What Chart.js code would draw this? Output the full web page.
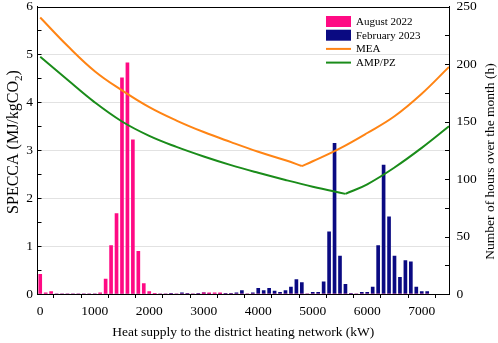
<!DOCTYPE html>
<html><head><meta charset="utf-8">
<script src="https://cdn.jsdelivr.net/npm/chart.js@4/dist/chart.umd.min.js"></script>
<style>html,body{margin:0;padding:0;background:#fff;}#wrap{width:498px;height:343px;position:relative;}</style>
</head><body><div id="wrap"><canvas id="c" width="498" height="343"></canvas></div>
<script>
// Histogram bin centres (kW)
const binCenters = [0,100,200,300,400,500,600,700,800,900,1000,1100,1200,1300,1400,1500,1600,1700,1800,1900,
  2000,2100,2200,2300,2400,2500,2600,2700,2800,2900,3000,3100,3200,3300,3400,3500,3600,3700,3800,3900,
  4000,4100,4200,4300,4400,4500,4600,4700,4800,4900,5000,5100,5200,5300,5400,5500,5600,5700,5800,5900,
  6000,6100,6200,6300,6400,6500,6600,6700,6800,6900,7000,7100];
// Hours per bin (right axis)
const august2022 = [17,1,2,0,0,0,0,0,0,0,0,1,13,42,70,188,201,134,37,9,
  2,0.5,0,0,0,0,0,0,0,0,1,1,1,1,0,0,0,0,0,0,
  0,0,0,0,0,0,0,0,0,0,0,0,0,0,0,0,0,0,0,0,
  0,0,0,0,0,0,0,0,0,0,0,0];
const february2023 = [0,0,0,0,0,0,0,0,0,0,0,0,0,0,0,0,0,0,0,0,
  0,0,0,0,0.5,0,1,0.5,0,0.5,1,0.5,0,0.5,0.5,0.5,1,3,0,1,
  5,3,5,2.5,1.5,3,6,12.6,10,0,1.5,1.5,10.6,54,131,33,8.5,0.5,0,1.5,
  1.5,6,42,112,67,33,14.4,29,28,6,2,2];
// SPECCA curves (left axis)
const meaX = [0,500,1000,1500,2000,2500,3000,3500,4000,4500,4800,5000,5500,6000,6500,7000,7500];
const meaY = [5.77,5.18,4.65,4.25,3.9,3.62,3.38,3.17,2.97,2.79,2.67,2.77,3.04,3.36,3.71,4.18,4.74];
const ampX = [0,500,1000,1500,2000,2500,3000,3500,4000,4500,5000,5600,6000,6500,7000,7500];
const ampY = [4.95,4.47,4.0,3.6,3.3,3.07,2.87,2.69,2.53,2.38,2.24,2.09,2.29,2.64,3.05,3.5];
// Axis tick values and titles
const xTickValues = [0,500,1000,1500,2000,2500,3000,3500,4000,4500,5000,5500,6000,6500,7000,7500];
const xLabelValues = [0,1000,2000,3000,4000,5000,6000,7000];
const xTitle = 'Heat supply to the district heating network (kW)';
const yTitleMain = 'SPECCA (MJ/kgCO', yTitleSub = '2', yTitleEnd = ')';
const y1Title = 'Number of hours over the month (h)';

const PINK = '#ff0a84', NAVY = '#0a0a82', ORANGE = '#ff8414', GREEN = '#1a8c1a';
const FONT = '"Liberation Serif","Times New Roman",serif';
Chart.defaults.font.family = FONT;
Chart.defaults.color = '#000';

function branch(xs, ys, left) {
  const k = ys.indexOf(Math.min(...ys));
  const pts = xs.map((x, i) => ({x: x, y: ys[i]}));
  return left ? pts.slice(0, k + 1) : pts.slice(k);
}
function lineDs(label, xs, ys, color, left) {
  return {type: 'line', label: label, legendType: left ? 'line' : null, data: branch(xs, ys, left),
    borderColor: color, backgroundColor: color, borderWidth: 2, pointRadius: 0, tension: 0.4,
    fill: false, yAxisID: 'y', order: 0};
}
function barDs(label, vals, color) {
  return {type: 'bar', label: label, legendType: 'box', data: binCenters.map((x, i) => ({x: x, y: vals[i]})),
    backgroundColor: color, borderWidth: 0, barThickness: 3, grouped: false, yAxisID: 'y1', order: 1};
}
function noPad(s) { s.paddingTop = 0; s.paddingBottom = 0; s.paddingLeft = 0; s.paddingRight = 0; }

const framePlugin = {
  id: 'frame',
  afterDatasetsDraw(chart) {
    const {ctx, chartArea: a} = chart;
    ctx.save();
    ctx.strokeStyle = '#000'; ctx.lineWidth = 1;
    ctx.beginPath();
    ctx.moveTo(a.left, Math.round(a.top) + 0.5); ctx.lineTo(a.right, Math.round(a.top) + 0.5);
    ctx.stroke();
    // inward tick marks on both vertical axes
    const yl = chart.scales.y, yr = chart.scales.y1;
    ctx.beginPath();
    yl.ticks.forEach(t => { const p = Math.round(yl.getPixelForValue(t.value)) + 0.5; ctx.moveTo(a.left, p); ctx.lineTo(a.left + 4, p); });
    yr.ticks.forEach(t => { const p = Math.round(yr.getPixelForValue(t.value)) + 0.5; ctx.moveTo(a.right, p); ctx.lineTo(a.right - 4, p); });
    ctx.stroke();
    // legend inside plot
    const items = chart.data.datasets.filter(d => d.legendType);
    const bx = a.right - 123, by = a.top + 15, gap = 13.7;
    ctx.font = '11px ' + FONT;
    ctx.textBaseline = 'middle'; ctx.textAlign = 'left';
    items.forEach((d, i) => {
      const cy = by + i * gap;
      if (d.legendType === 'box') {
        ctx.fillStyle = d.backgroundColor; ctx.fillRect(bx, cy - 5.5, 25, 11);
      } else {
        ctx.strokeStyle = d.borderColor; ctx.lineWidth = 2;
        ctx.beginPath(); ctx.moveTo(bx, cy); ctx.lineTo(bx + 25, cy); ctx.stroke();
      }
      ctx.fillStyle = '#000';
      ctx.fillText(d.label, bx + 30, cy + 0.5);
    });
    ctx.restore();
  },
  afterDraw(chart) {
    const ctx = chart.ctx;
    ctx.save();
    ctx.fillStyle = '#000'; ctx.textBaseline = 'alphabetic'; ctx.textAlign = 'left';
    // left axis title with subscript, reading bottom to top
    ctx.translate(18, 142); ctx.rotate(-Math.PI / 2);
    ctx.font = '16px ' + FONT; const w1 = ctx.measureText(yTitleMain).width, w3 = ctx.measureText(yTitleEnd).width;
    ctx.font = '11px ' + FONT; const w2 = ctx.measureText(yTitleSub).width;
    const x0 = -(w1 + w2 + w3) / 2;
    ctx.font = '16px ' + FONT; ctx.fillText(yTitleMain, x0, 0);
    ctx.font = '11px ' + FONT; ctx.fillText(yTitleSub, x0 + w1, 4);
    ctx.font = '16px ' + FONT; ctx.fillText(yTitleEnd, x0 + w1 + w2, 0);
    ctx.restore();
    // right axis title, reading bottom to top
    ctx.save();
    ctx.fillStyle = '#000'; ctx.textBaseline = 'alphabetic'; ctx.textAlign = 'center';
    ctx.translate(494, 161.5); ctx.rotate(-Math.PI / 2);
    ctx.font = '13.5px ' + FONT; ctx.fillText(y1Title, 0, 0);
    ctx.restore();
  }
};

new Chart(document.getElementById('c'), {
  type: 'bar',
  data: {
    datasets: [
      barDs('August 2022', august2022, PINK),
      barDs('February 2023', february2023, NAVY),
      lineDs('MEA', meaX, meaY, ORANGE, true),
      lineDs('MEA', meaX, meaY, ORANGE, false),
      lineDs('AMP/PZ', ampX, ampY, GREEN, true),
      lineDs('AMP/PZ', ampX, ampY, GREEN, false)
    ]
  },
  options: {
    responsive: false, animation: false,
    layout: {padding: {top: 6.5, left: 0, right: 0, bottom: 0}},
    plugins: {legend: {display: false}, tooltip: {enabled: false}},
    scales: {
      x: {
        type: 'linear', min: -50, max: 7500, offset: false,
        afterFit: s => { s.height = 49; noPad(s); },
        afterBuildTicks: s => { s.ticks = xTickValues.map(v => ({value: v})); },
        grid: {drawOnChartArea: false, drawTicks: true, tickLength: 4, color: '#000', tickColor: '#000'},
        border: {display: true, color: '#000', width: 1},
        ticks: {autoSkip: false, maxRotation: 0, padding: 5, font: {size: 13.5},
          callback: v => xLabelValues.includes(v) ? String(v) : ''},
        title: {display: true, text: xTitle, font: {size: 13.5}, padding: {top: 0, bottom: 2}}
      },
      y: {
        position: 'left', min: 0, max: 6,
        afterFit: s => { s.width = 37.5; noPad(s); },
        grid: {drawTicks: false, lineWidth: 1,
          color: c => (c.tick && Number.isInteger(c.tick.value) && c.tick.value > 0 && c.tick.value < 6) ? '#e2e2e2' : 'rgba(0,0,0,0)'},
        border: {display: true, color: '#000', width: 1},
        ticks: {stepSize: 0.5, padding: 4.5, font: {size: 13.5},
          callback: v => Number.isInteger(v) ? String(v) : ''},
        title: {display: false}
      },
      y1: {
        position: 'right', min: 0, max: 250,
        afterFit: s => { s.width = 49; noPad(s); },
        grid: {drawOnChartArea: false, drawTicks: false},
        border: {display: true, color: '#000', width: 1},
        ticks: {stepSize: 25, padding: 7.5, font: {size: 13.5},
          callback: v => (v % 50 === 0) ? String(v) : ''},
        title: {display: false}
      }
    }
  },
  plugins: [framePlugin]
});
</script>
</body></html>
